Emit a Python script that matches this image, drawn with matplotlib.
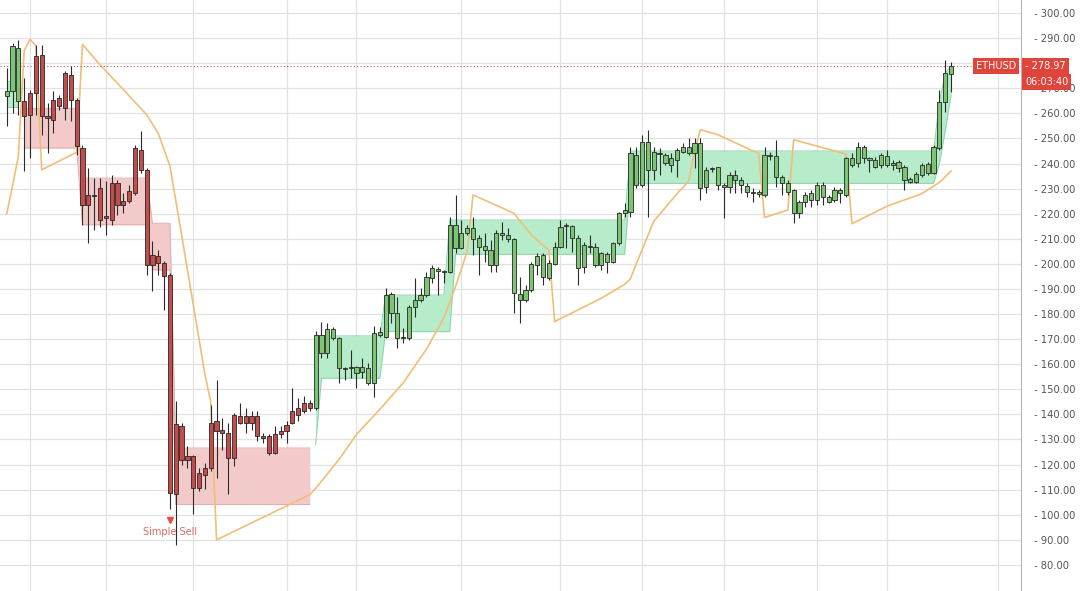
import numpy as np
import matplotlib.pyplot as plt

# daily ETHUSD candles (index 0 .. 162)
opens = [266.8, 268.8, 286.0, 264.8, 259.4, 268.1, 283.4, 258.8, 257.5, 262.8,
         262.1, 275.4, 265.4, 246.2, 223.6, 227.6, 230.2, 218.4, 217.6, 232.2,
         223.6, 224.9, 228.2, 245.5, 237.5, 199.7, 203.0, 200.4, 195.7, 108.1,
         135.3, 122.0, 123.3, 110.7, 116.0, 118.7, 137.3, 133.9, 132.6, 122.7,
         139.3, 136.6, 139.3, 139.3, 131.3, 131.3, 124.7, 132.3, 133.3, 136.6,
         139.9, 141.3, 144.6, 142.6, 171.6, 164.3, 173.9, 170.3, 158.6, 158.6,
         158.8, 157.0, 158.4, 152.4, 171.6, 171.0, 188.0, 180.3, 170.3, 170.3,
         182.9, 185.6, 187.6, 194.2, 197.8, 197.1, 196.9, 215.5, 206.2, 212.2,
         214.2, 210.2, 207.1, 205.5, 199.6, 212.4, 211.5, 209.8, 188.0, 185.6,
         189.6, 199.6, 203.5, 194.2, 200.0, 206.9, 215.1, 215.1, 210.2, 198.9,
         207.1, 206.9, 199.6, 203.9, 200.9, 208.2, 220.1, 220.8, 243.4, 231.4,
         248.7, 237.4, 244.3, 243.4, 239.4, 241.4, 244.7, 246.7, 244.1, 248.0,
         230.8, 237.7, 238.5, 231.4, 230.8, 235.4, 233.4, 231.0, 228.8, 227.9,
         227.5, 243.4, 243.0, 234.8, 232.1, 229.5, 220.2, 224.8, 225.5, 225.5,
         231.4, 226.8, 225.5, 229.5, 227.5, 242.1, 240.1, 246.7, 242.1, 241.4,
         239.4, 243.0, 240.1, 240.8, 238.8, 233.7, 232.8, 235.4, 236.1, 236.1,
         246.1, 264.7, 275.7]
highs = [278.0, 288.0, 289.3, 274.1, 269.4, 287.3, 287.3, 264.1, 268.8, 267.4,
         276.7, 278.7, 266.1, 247.5, 238.2, 234.2, 234.2, 232.9, 235.6, 233.6,
         228.2, 231.6, 247.5, 252.8, 238.2, 209.0, 205.6, 201.0, 196.5, 145.3,
         136.5, 127.3, 124.0, 118.7, 120.7, 143.9, 153.9, 138.6, 136.6, 140.6,
         144.6, 142.6, 141.3, 141.3, 132.6, 132.0, 135.3, 135.3, 137.3, 150.6,
         146.6, 147.2, 145.9, 173.2, 176.9, 176.3, 175.0, 171.0, 159.0, 165.7,
         159.1, 162.4, 160.4, 175.2, 175.0, 190.3, 188.9, 186.9, 174.3, 183.6,
         194.2, 190.3, 196.9, 199.6, 198.9, 197.6, 218.8, 227.5, 217.5, 215.5,
         218.8, 211.5, 212.2, 209.5, 213.5, 216.8, 214.2, 210.2, 194.9, 191.6,
         200.9, 204.5, 204.5, 201.6, 208.8, 217.5, 216.2, 215.5, 211.5, 208.8,
         211.5, 208.2, 204.9, 204.9, 208.8, 220.8, 224.1, 246.7, 246.7, 251.4,
         253.4, 246.7, 246.1, 244.1, 244.1, 246.1, 248.0, 250.0, 250.0, 250.0,
         238.8, 238.5, 238.8, 232.1, 236.8, 237.4, 234.8, 232.1, 230.1, 229.5,
         246.7, 244.7, 249.4, 235.4, 233.4, 229.7, 225.5, 228.8, 229.5, 232.8,
         232.8, 227.5, 230.8, 230.1, 242.7, 244.1, 248.7, 247.4, 242.7, 242.7,
         244.1, 245.4, 241.4, 241.4, 239.4, 234.8, 236.8, 240.1, 240.8, 247.4,
         269.3, 281.3, 280.5]
lows = [254.8, 260.1, 259.4, 236.9, 242.2, 259.4, 251.5, 244.2, 252.2, 261.4,
        257.5, 256.8, 243.5, 215.6, 208.3, 213.6, 214.9, 211.6, 215.6, 219.6,
        220.3, 224.3, 227.6, 236.2, 195.7, 189.0, 195.7, 181.8, 102.1, 88.1,
        120.0, 118.7, 100.1, 109.4, 110.1, 117.4, 114.7, 126.0, 108.1, 119.4,
        136.0, 132.6, 133.9, 129.3, 128.7, 124.0, 124.3, 130.6, 128.7, 136.0,
        137.3, 140.6, 141.3, 141.9, 162.4, 162.4, 169.7, 152.4, 153.7, 154.4,
        150.4, 154.4, 151.7, 147.1, 171.0, 170.3, 176.3, 166.3, 168.3, 169.7,
        179.0, 184.9, 186.9, 192.2, 187.6, 192.2, 196.2, 204.2, 205.8, 211.5,
        203.5, 195.6, 200.9, 196.9, 196.9, 209.5, 208.8, 180.3, 176.6, 184.9,
        188.9, 195.6, 191.6, 193.6, 199.6, 206.2, 206.2, 204.9, 191.6, 196.2,
        204.2, 198.9, 197.6, 196.2, 200.5, 207.5, 218.8, 218.8, 230.1, 230.8,
        218.8, 233.4, 235.4, 239.4, 236.8, 234.8, 244.1, 243.4, 238.1, 225.5,
        228.1, 236.8, 229.5, 218.2, 228.1, 228.1, 228.1, 226.8, 224.8, 226.8,
        226.8, 241.4, 230.8, 227.5, 227.5, 216.2, 218.2, 222.8, 222.8, 223.5,
        223.5, 224.1, 224.8, 224.1, 226.8, 238.8, 238.8, 240.1, 236.8, 238.1,
        238.1, 238.8, 237.4, 236.8, 229.5, 232.1, 232.1, 234.8, 235.4, 235.8,
        245.4, 260.7, 268.6]
closes = [268.8, 286.7, 264.8, 258.8, 268.1, 282.7, 258.8, 258.1, 265.4, 266.1,
          276.1, 265.4, 246.8, 223.6, 227.6, 227.2, 217.6, 219.0, 232.2, 223.6,
          224.9, 228.9, 246.2, 237.5, 199.7, 203.7, 200.4, 195.0, 108.7, 136.0,
          122.0, 123.3, 110.7, 116.7, 118.7, 136.6, 133.3, 132.6, 122.7, 139.9,
          136.6, 139.3, 136.6, 131.3, 130.6, 124.7, 132.2, 133.3, 135.9, 141.2,
          142.6, 144.6, 142.6, 171.8, 164.3, 173.9, 170.3, 158.4, 158.2, 158.9,
          156.4, 158.8, 152.4, 172.6, 173.0, 187.6, 180.3, 170.3, 171.0, 182.9,
          185.6, 187.6, 194.9, 198.2, 197.3, 196.8, 215.5, 206.2, 212.2, 214.2,
          209.8, 206.9, 205.5, 199.6, 212.2, 211.5, 209.8, 188.3, 185.6, 189.6,
          200.0, 203.1, 194.9, 200.5, 206.9, 214.8, 215.5, 210.2, 198.2, 207.5,
          206.6, 199.6, 204.2, 200.9, 208.2, 220.1, 221.5, 244.1, 231.4, 248.7,
          237.4, 244.7, 243.8, 240.1, 242.1, 245.4, 246.7, 244.1, 248.0, 230.1,
          237.4, 238.1, 231.4, 230.8, 235.4, 233.4, 231.4, 228.8, 228.4, 228.8,
          243.4, 243.0, 234.8, 232.1, 228.8, 220.2, 224.8, 227.5, 228.1, 231.4,
          226.8, 224.8, 229.5, 228.1, 242.1, 239.4, 246.7, 242.1, 241.4, 238.8,
          243.4, 239.4, 239.4, 238.1, 233.4, 232.8, 235.8, 239.4, 239.7, 246.5,
          264.7, 276.0, 278.97]

# signal state per bar: buy for the first 3, sell until bar 52, then buy
sell_start = 3
buy_start = 53

# channel levels, (first bar, level)
upper_steps = [(0, 273.0), (3, 262.0), (13, 234.2), (25, 216.2), (29, 126.6),
               (53, 171.3), (65, 187.6), (76, 217.5), (107, 245.0),
               (160, 264.7), (161, 276.0), (162, 279.0)]
lower_steps = [(0, 262.5), (3, 246.2), (13, 215.6), (25, 197.6), (29, 104.1),
               (53, 128.0), (54, 154.4), (65, 173.0), (77, 203.8), (107, 232.1),
               (160, 240.0), (161, 253.0), (162, 267.3)]

# orange trailing line vertices (bar, price)
trail_idx = [0, 1, 2, 3, 4, 5, 6, 12, 13, 16, 19, 22, 24, 26, 28, 30, 32, 34, 35,
             36, 52, 53, 57, 60, 64, 68, 72, 75, 77, 79, 80, 87, 90, 93, 94, 102,
             106, 107, 108, 111, 115, 117, 118, 119, 122, 129, 130, 134, 135, 144,
             145, 151, 157, 160, 162]
trail_val = [220, 231, 243, 285, 289.5, 287, 237.5, 244.5, 287.5, 279.4, 272,
             264.5, 259.5, 252, 239, 211.6, 183.8, 156, 145,
             90, 108, 110.5, 122, 132, 142, 152.5, 166, 178.5, 191, 205, 227.5,
             220.2, 211.5, 205.5, 177, 186.3, 191.8,
             194, 200, 217, 228, 233, 245, 253.5, 251.5, 244, 218.5, 221.5,
             249.5, 243.8, 216, 223, 228, 232.5, 237]

week_lines = [4, 17, 32, 48, 60, 78, 95, 109, 123, 139, 151, 170]
price_ticks = list(range(80, 301, 10))
hidden_tick = 280  # sits under the last-price tag
last_price = 278.97
clock_text = "06:03:40"

n = len(closes)
x = np.arange(n)
regime = np.array(["buy"] * n, dtype=object)
regime[sell_start:buy_start] = "sell"


def expand(steps):
    out = np.zeros(n)
    for start, level in steps:
        out[start:] = level
    return out


upper = expand(upper_steps)
lower = expand(lower_steps)

GREEN = "#7cc572"
RED = "#c44c4a"
GREEN_FILL = "#b6ecca"
RED_FILL = "#f3caca"

fig = plt.figure(figsize=(10.8, 5.91), dpi=100)
ax = fig.add_axes([0, 0, 1021 / 1080, 1])
ax.set_xlim(-1.15, 174.0)
ax.set_ylim(69.6, 305.2)

# grid
ax.set_xticks(week_lines)
ax.set_yticks(price_ticks)
ax.grid(True, color="#e2e2e2", lw=0.9)
ax.set_axisbelow(True)
ax.tick_params(axis="x", length=0, labelbottom=False)
ax.yaxis.tick_right()
ax.tick_params(axis="y", length=0, pad=9, labelsize=7.2, labelcolor="#555555")
ax.set_yticklabels(["" if v == hidden_tick else "- %.2f" % v for v in price_ticks])
for side in ["top", "left", "bottom"]:
    ax.spines[side].set_visible(False)
ax.spines["right"].set_color("#b5b5b5")

# channel fills, one run per signal state
runs = [(0, sell_start), (sell_start, buy_start), (buy_start, n)]
for a, b in runs:
    sl = slice(a, b)
    buy = regime[a] == "buy"
    ax.fill_between(x[sl], lower[sl], upper[sl], color=GREEN_FILL if buy else RED_FILL,
                    lw=0, zorder=1)
    edge = "#8fd3aa" if buy else "#e3aaaa"
    ax.plot(x[sl], upper[sl], color=edge, lw=0.7, zorder=1.1)
    ax.plot(x[sl], lower[sl], color=edge, lw=0.7, zorder=1.1)

# trailing line
ax.plot(trail_idx, trail_val, color="#f2bd78", lw=1.2, zorder=2)

# last price line
ax.axhline(last_price, color="#d9605a", lw=0.8, ls=(0, (1, 2)), zorder=2)

# candles
o = np.array(opens)
c = np.array(closes)
body_lo = np.minimum(o, c)
body_h = np.maximum(np.abs(c - o), 0.45)
face = [GREEN if r == "buy" else RED for r in regime]
ax.vlines(x, lows, highs, color="#2b2b2b", lw=0.8, zorder=3)
ax.bar(x, body_h, bottom=body_lo, width=0.72, color=face, edgecolor="#262626",
       linewidth=0.6, zorder=4)

# signal marker
ax.plot(28, 97.8, marker="v", color="#e0504a", ms=5, zorder=5)
ax.text(28, 93.0, "Simple Sell", color="#e06a66", fontsize=7, ha="center",
        va="center", zorder=5)

# price labels on the axis
box = dict(boxstyle="square,pad=0.3", fc="#e0443b", ec="none")
fig.text(1016 / 1080, 1 - 65.8 / 591, "ETHUSD", ha="right", va="center",
         color="white", fontsize=7, bbox=box)
fig.text(1025 / 1080, 1 - 65.8 / 591, "- %.2f" % last_price, ha="left",
         va="center", color="white", fontsize=7, bbox=box)
fig.text(1025 / 1080, 1 - 82 / 591, clock_text, ha="left", va="center",
         color="white", fontsize=7, bbox=box)

fig.savefig("out.png", dpi=100)
